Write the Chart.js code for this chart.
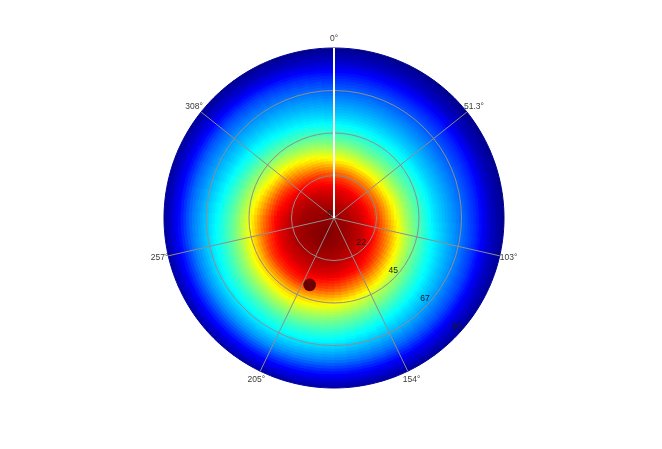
<!DOCTYPE html>
<html>
<head>
<meta charset="utf-8">
<script src="https://cdn.jsdelivr.net/npm/chart.js@4.4.1/dist/chart.umd.min.js"></script>
<style>
  html, body { margin: 0; padding: 0; background: #fff; }
  #wrap { width: 662px; height: 449px; }
</style>
</head>
<body>
<div id="wrap"><canvas id="chart" width="662" height="449"></canvas></div>
<script>
'use strict';

//*****DATA******/

let bearings = [0, 30, 60, 90, 120, 150, 180, 210, 240, 270, 300, 330];
// distance from the centre of each reading, same units as the rings
let zenith = [0, 7.5, 15, 22.5, 30, 37.5, 45, 52.5, 60, 67.5, 75, 82.5, 90];

// level along each bearing, 0 = deep blue ... 1 = deep red
let level000 = [0.98, 0.95, 0.90, 0.80, 0.64, 0.52, 0.42, 0.34, 0.28, 0.22, 0.15, 0.07, 0.01];
let level030 = [0.98, 0.94, 0.89, 0.77, 0.61, 0.49, 0.40, 0.33, 0.27, 0.21, 0.14, 0.06, 0.01];
let level060 = [0.98, 0.95, 0.89, 0.78, 0.62, 0.50, 0.41, 0.33, 0.27, 0.21, 0.15, 0.06, 0.01];
let level090 = [0.98, 0.95, 0.91, 0.82, 0.67, 0.54, 0.44, 0.35, 0.29, 0.23, 0.16, 0.07, 0.01];
let level120 = [0.98, 0.97, 0.94, 0.88, 0.76, 0.61, 0.49, 0.40, 0.33, 0.26, 0.19, 0.09, 0.02];
let level150 = [0.98, 0.98, 0.96, 0.92, 0.85, 0.70, 0.56, 0.46, 0.37, 0.30, 0.22, 0.11, 0.02];
let level180 = [0.98, 0.99, 0.98, 0.95, 0.90, 0.79, 0.63, 0.51, 0.42, 0.34, 0.25, 0.13, 0.03];
let level210 = [0.98, 1.00, 0.99, 0.96, 0.92, 0.84, 0.68, 0.55, 0.44, 0.36, 0.27, 0.14, 0.03];
let level240 = [0.98, 0.99, 0.98, 0.96, 0.91, 0.82, 0.66, 0.53, 0.43, 0.35, 0.26, 0.14, 0.03];
let level270 = [0.98, 0.98, 0.97, 0.94, 0.88, 0.75, 0.60, 0.48, 0.39, 0.32, 0.24, 0.12, 0.02];
let level300 = [0.98, 0.97, 0.95, 0.90, 0.80, 0.64, 0.52, 0.42, 0.34, 0.28, 0.21, 0.10, 0.02];
let level330 = [0.98, 0.96, 0.92, 0.85, 0.70, 0.57, 0.46, 0.37, 0.31, 0.25, 0.18, 0.08, 0.01];

let levels = [level000, level030, level060, level090, level120, level150,
  level180, level210, level240, level270, level300, level330];

let spokeLabels = ['0°', '51.3°', '103°', '154°', '205°', '257°', '308°'];
let ringTicks = [0, 22.5, 45, 67.5, 90];
let ringLabels = ['0', '22', '45', '67', '90'];

// the small dark spot
let spotBearing = [200];
let spotZenith = [37.7];

//*****SETTINGS******/

let wedgesPerSpoke = 10;
let wedgeCount = spokeLabels.length * wedgesPerSpoke;
let ringCount = 60;
let tickBearing = 131.5;

let canvasElem = document.getElementById('chart');

//*****HELPERS******/

function jet(v) {
  let r = Math.min(1, Math.max(0, 1.5 - Math.abs(4 * v - 3)));
  let g = Math.min(1, Math.max(0, 1.5 - Math.abs(4 * v - 2)));
  let b = Math.min(1, Math.max(0, 1.5 - Math.abs(4 * v - 1)));
  return `rgb(${Math.round(r * 255)},${Math.round(g * 255)},${Math.round(b * 255)})`;
}

// colour level at a bearing / distance, blended between the readings
function levelAt(bearing, zen) {
  let n = bearings.length;
  let p = bearing / (360 / n);
  let a0 = Math.floor(p) % n;
  let a1 = (a0 + 1) % n;
  let t = p - Math.floor(p);
  let zStep = zenith[1] - zenith[0];
  let q = Math.min(zen / zStep, zenith.length - 1);
  let z0 = Math.min(Math.floor(q), zenith.length - 2);
  let u = q - z0;
  let near = levels[a0][z0] * (1 - u) + levels[a0][z0 + 1] * u;
  let far = levels[a1][z0] * (1 - u) + levels[a1][z0 + 1] * u;
  return near * (1 - t) + far * t;
}

function polarPoint(scale, bearing, value, shift) {
  let ang = bearing * Math.PI / 180;
  let dist = scale.getDistanceFromCenterForValue(value) + (shift || 0);
  return {
    x: scale.xCenter + Math.sin(ang) * dist,
    y: scale.yCenter - Math.cos(ang) * dist
  };
}

//*****DATASETS******/

let wedgeLabels = [];
for (let j = 0; j < wedgeCount; j++) {
  wedgeLabels.push(j % wedgesPerSpoke === 0 ? spokeLabels[j / wedgesPerSpoke] : '');
}

// one ring per dataset, inner rings first so they sit on top
let datasets = [];
for (let k = 0; k < ringCount; k++) {
  let outer = (k + 1) * 90 / ringCount;
  let mid = (k + 0.5) * 90 / ringCount;
  let colors = [];
  let values = [];
  for (let j = 0; j < wedgeCount; j++) {
    colors.push(jet(levelAt((j + 0.5) * 360 / wedgeCount, mid)));
    values.push(outer);
  }
  datasets.push({
    data: values,
    backgroundColor: colors,
    borderColor: colors,
    borderWidth: 1
  });
}

//*****PLUGIN FOR TEXT AND SPOT******/

let polarText = {
  id: 'polarText',
  afterDatasetsDraw(chart) {
    let scale = chart.scales.r;
    let ctx = chart.ctx;
    ctx.save();
    for (let i = 0; i < spotBearing.length; i++) {
      let pt = polarPoint(scale, spotBearing[i], spotZenith[i]);
      ctx.beginPath();
      ctx.arc(pt.x, pt.y, 6.3, 0, Math.PI * 2);
      ctx.fillStyle = '#6a0000';
      ctx.fill();
    }
    ctx.restore();
  },
  afterDraw(chart) {
    let scale = chart.scales.r;
    let ctx = chart.ctx;
    ctx.save();
    ctx.font = '8.5px "Liberation Sans", Arial, sans-serif';
    ctx.textAlign = 'center';
    ctx.textBaseline = 'middle';

    ctx.fillStyle = '#3a3a3a';
    let outer = scale.getDistanceFromCenterForValue(scale.max);
    for (let i = 0; i < spokeLabels.length; i++) {
      let pos = scale.getPointPosition(i * wedgesPerSpoke, outer + 9);
      ctx.fillText(spokeLabels[i], pos.x, pos.y);
    }

    ctx.fillStyle = '#1a1a1a';
    for (let i = 0; i < ringTicks.length; i++) {
      let pt = polarPoint(scale, tickBearing, ringTicks[i], -6);
      ctx.fillText(ringLabels[i], pt.x, pt.y);
    }
    ctx.restore();
  }
};

//*****CHART******/

new Chart(canvasElem, {
  type: 'polarArea',
  data: {
    labels: wedgeLabels,
    datasets: datasets
  },
  options: {
    responsive: false,
    animation: false,
    events: [],
    layout: {
      padding: { left: 164, right: 157, top: 48, bottom: 60 }
    },
    plugins: {
      legend: { display: false },
      tooltip: { enabled: false }
    },
    scales: {
      r: {
        min: 0,
        max: 90,
        ticks: { display: false, stepSize: 22.5 },
        grid: {
          z: 1,
          lineWidth: 1,
          color: (c) => (c.tick && c.tick.value >= 90 ? 'rgba(0,0,0,0)' : '#8e8e8e')
        },
        angleLines: {
          display: true,
          color: (c) => (c.index === 0 ? '#ffffff' : '#8e8e8e'),
          lineWidth: (c) => (c.index % wedgesPerSpoke === 0 ? (c.index === 0 ? 2 : 1) : 0)
        },
        pointLabels: { display: false }
      }
    }
  },
  plugins: [polarText]
});
</script>
</body>
</html>
